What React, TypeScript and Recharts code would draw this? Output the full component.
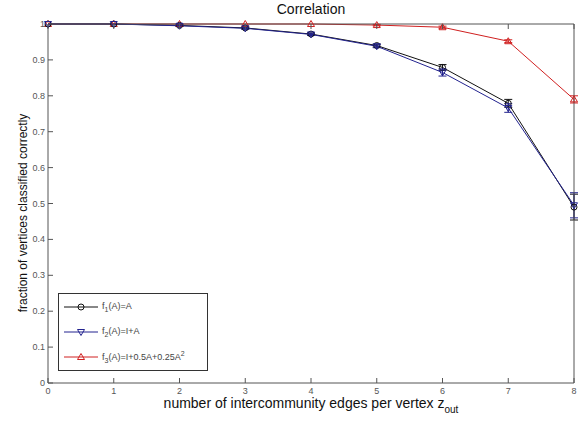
import { LineChart, Line, XAxis, YAxis, ErrorBar } from 'recharts';

const zOut = [0, 1, 2, 3, 4, 5, 6, 7, 8];
const f1 = [1, 1, 0.996, 0.989, 0.972, 0.94, 0.879, 0.779, 0.49];
const f2 = [1, 1, 0.995, 0.988, 0.971, 0.938, 0.865, 0.766, 0.495];
const f3 = [1, 1, 1, 1, 1, 0.997, 0.991, 0.952, 0.79];
const f1Err = [0, 0, 0.002, 0.002, 0.003, 0.004, 0.008, 0.011, 0.036];
const f2Err = [0, 0, 0.002, 0.003, 0.003, 0.004, 0.01, 0.012, 0.035];
const f3Err = [0, 0, 0, 0, 0, 0.002, 0.003, 0.004, 0.01];
const xTicks = [0, 1, 2, 3, 4, 5, 6, 7, 8];
const yTicks = [0, 0.1, 0.2, 0.3, 0.4, 0.5, 0.6, 0.7, 0.8, 0.9, 1];

const data = zOut.map((z, i) => ({
    z,
    f1: f1[i], f2: f2[i], f3: f3[i],
    e1: f1Err[i], e2: f2Err[i], e3: f3Err[i],
}));

const BLACK = "#111111";
const BLUE = "#23238f";
const RED = "#d02020";
const AXIS = "#555555";
const FONT = "'Liberation Sans', Arial, sans-serif";

const Circle = (props: any) => {
    const { cx, cy } = props;
    if (cx == null || cy == null) return null;
    return <circle cx={cx} cy={cy} r={3} fill="none" stroke={BLACK} strokeWidth={1} />;
};
const TriDown = (props: any) => {
    const { cx, cy } = props;
    if (cx == null || cy == null) return null;
    return <path d={`M${cx - 3.5},${cy - 2.5} L${cx + 3.5},${cy - 2.5} L${cx},${cy + 3.5} Z`} fill="none" stroke={BLUE} strokeWidth={1} />;
};
const TriUp = (props: any) => {
    const { cx, cy } = props;
    if (cx == null || cy == null) return null;
    return <path d={`M${cx - 3.5},${cy + 2.5} L${cx + 3.5},${cy + 2.5} L${cx},${cy - 3.5} Z`} fill="none" stroke={RED} strokeWidth={1} />;
};

const BottomTick = (props: any) => {
    const { x, y, payload } = props;
    return (
        <g>
            <line x1={x} y1={y} x2={x} y2={y - 5} stroke={AXIS} />
            <text x={x} y={y + 11} textAnchor="middle" fontSize={9} fill={AXIS} fontFamily={FONT}>{payload.value}</text>
        </g>
    );
};
const TopTick = (props: any) => {
    const { x, y } = props;
    return <line x1={x} y1={y} x2={x} y2={y + 5} stroke={AXIS} />;
};
const LeftTick = (props: any) => {
    const { x, y, payload } = props;
    return (
        <g>
            <line x1={x} y1={y} x2={x + 5} y2={y} stroke={AXIS} />
            <text x={x - 3} y={y + 3} textAnchor="end" fontSize={9} fill={AXIS} fontFamily={FONT}>{payload.value}</text>
        </g>
    );
};
const RightTick = (props: any) => {
    const { x, y } = props;
    return <line x1={x} y1={y} x2={x - 5} y2={y} stroke={AXIS} />;
};

const Sub = ({ n }: { n: string }) => <sub style={{ fontSize: 7 }}>{n}</sub>;

const legendRows = [
    { color: BLACK, marker: "circle", label: <>f<Sub n="1" />(A)=A</> },
    { color: BLUE, marker: "down", label: <>f<Sub n="2" />(A)=I+A</> },
    { color: RED, marker: "up", label: <>f<Sub n="3" />(A)=I+0.5A+0.25A<sup style={{ fontSize: 7 }}>2</sup></> },
];

function LegendBox() {
    return (
        <div style={{ position: "absolute", left: 58, top: 293, width: 148, height: 76, border: "1px solid #333", background: "#fff", fontFamily: FONT, fontSize: 9, color: "#444" }}>
            {legendRows.map((r, i) => (
                <div key={i} style={{ position: "absolute", left: 5, top: 6 + i * 25, height: 14, display: "flex", alignItems: "center", whiteSpace: "nowrap" }}>
                    <svg width={34} height={12}>
                        <line x1={0} y1={6} x2={34} y2={6} stroke={r.color} />
                        {r.marker === "circle" && <Circle cx={17} cy={6} />}
                        {r.marker === "down" && <TriDown cx={17} cy={6} />}
                        {r.marker === "up" && <TriUp cx={17} cy={6} />}
                    </svg>
                    <span style={{ marginLeft: 4 }}>{r.label}</span>
                </div>
            ))}
        </div>
    );
}

export default function App() {
    return (
        <div style={{ position: "absolute", left: 0, top: 0, width: 584, height: 422, background: "#fff" }}>
            <div style={{ position: "absolute", left: 0, width: 584, textAlign: "center", paddingLeft: 38, boxSizing: "border-box", top: 1, fontFamily: FONT, fontSize: 14, color: "#111" }}>Correlation</div>
            <LineChart width={584} height={422} data={data} margin={{ top: 23, right: 9, bottom: 38, left: 47 }}>
                <XAxis dataKey="z" type="number" domain={[0, 8]} ticks={xTicks} height={1} tickSize={0} tickMargin={0}
                    stroke={AXIS} tick={<BottomTick />} interval={0}
                    label={(p: any) => {
                        const vb = p.viewBox;
                        return (
                            <text x={vb.x + vb.width / 2} y={vb.y + 25} textAnchor="middle" fontSize={14} fill="#111" fontFamily={FONT}>
                                number of intercommunity edges per vertex z<tspan fontSize={10} dy={5}>out</tspan>
                            </text>
                        );
                    }} />
                <XAxis xAxisId="top" orientation="top" dataKey="z" type="number" domain={[0, 8]} ticks={xTicks} height={1}
                    tickSize={0} tickMargin={0} stroke={AXIS} tick={<TopTick />} interval={0} />
                <YAxis type="number" domain={[0, 1]} ticks={yTicks} width={1} tickSize={0} tickMargin={0}
                    stroke={AXIS} tick={<LeftTick />} interval={0}
                    label={() => (
                        <text x={27} y={213} transform="rotate(-90, 27, 213)" textAnchor="middle" fontSize={12} fill="#111" fontFamily={FONT}>
                            fraction of vertices classified correctly
                        </text>
                    )} />
                <YAxis yAxisId="right" orientation="right" type="number" domain={[0, 1]} ticks={yTicks} width={1}
                    tickSize={0} tickMargin={0} stroke={AXIS} tick={<RightTick />} interval={0} />
                <Line dataKey="f3" stroke={RED} strokeWidth={1} dot={<TriUp />} isAnimationActive={false}>
                    <ErrorBar dataKey="e3" direction="y" width={4} stroke={RED} strokeWidth={1} isAnimationActive={false} />
                </Line>
                <Line dataKey="f1" stroke={BLACK} strokeWidth={1} dot={<Circle />} isAnimationActive={false}>
                    <ErrorBar dataKey="e1" direction="y" width={4} stroke={BLACK} strokeWidth={1} isAnimationActive={false} />
                </Line>
                <Line dataKey="f2" stroke={BLUE} strokeWidth={1} dot={<TriDown />} isAnimationActive={false}>
                    <ErrorBar dataKey="e2" direction="y" width={4} stroke={BLUE} strokeWidth={1} isAnimationActive={false} />
                </Line>
            </LineChart>
            <LegendBox />
        </div>
    );
}
